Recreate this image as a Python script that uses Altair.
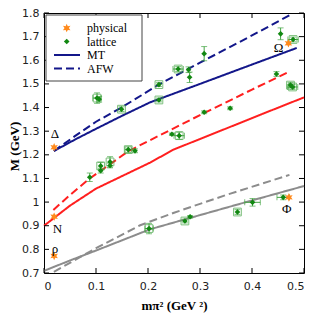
import altair as alt
import pandas as pd

# ---------------- data ----------------
# lattice points: m_pi^2, M, x-error, y-error, boxed?
lat_x = [0.088, 0.102, 0.106, 0.109, 0.109, 0.127, 0.127, 0.149, 0.162, 0.175,
         0.202, 0.221, 0.221, 0.246, 0.260, 0.258, 0.278, 0.280, 0.271, 0.281,
         0.308, 0.308, 0.358, 0.372, 0.401, 0.447, 0.455, 0.460, 0.474, 0.478, 0.479]
lat_y = [1.105, 1.440, 1.435, 1.153, 1.133, 1.170, 1.155, 1.393, 1.222, 1.217,
         0.888, 1.497, 1.432, 1.287, 1.281, 1.563, 1.560, 1.528, 0.920, 0.938,
         1.628, 1.380, 1.397, 0.958, 0.999, 1.542, 1.712, 1.020, 1.495, 1.487, 1.688]
lat_xerr = [0.0, 0.008, 0.0, 0.0, 0.0, 0.0, 0.0, 0.0, 0.006, 0.0,
            0.008, 0.0, 0.0, 0.0, 0.010, 0.010, 0.0, 0.0, 0.0, 0.0,
            0.0, 0.0, 0.0, 0.0, 0.015, 0.0, 0.0, 0.012, 0.0, 0.010, 0.010]
lat_yerr = [0.018, 0.022, 0.012, 0.015, 0.010, 0.022, 0.010, 0.010, 0.012, 0.008,
            0.022, 0.008, 0.008, 0.005, 0.015, 0.010, 0.012, 0.022, 0.008, 0.005,
            0.030, 0.006, 0.006, 0.010, 0.016, 0.010, 0.025, 0.010, 0.010, 0.010, 0.010]
lat_box = [False, True, False, True, False, True, False, True, True, False,
           True, True, True, False, True, True, False, False, True, False,
           False, False, False, True, False, False, False, False, True, True, True]

# physical points
phys_name = ["Δ", "N", "ρ", "Ω", "Φ"]
phys_x = [0.0195, 0.0195, 0.0195, 0.470, 0.471]
phys_y = [1.232, 0.938, 0.772, 1.672, 1.020]
lab_x = [0.021, 0.026, 0.021, 0.451, 0.467]
lab_y = [1.287, 0.887, 0.803, 1.654, 0.970]

# model curves
mt_dec_x = [0.019, 0.06, 0.1, 0.15, 0.204, 0.3, 0.4, 0.486]
mt_dec_y = [1.216, 1.265, 1.310, 1.365, 1.422, 1.500, 1.582, 1.652]
afw_dec_x = [0.019, 0.06, 0.1, 0.149, 0.223, 0.3, 0.4, 0.472]
afw_dec_y = [1.216, 1.280, 1.340, 1.400, 1.500, 1.590, 1.705, 1.790]
mt_oct_x = [0.0, 0.05, 0.1, 0.204, 0.249, 0.35, 0.42, 0.5]
mt_oct_y = [0.900, 0.985, 1.057, 1.167, 1.222, 1.311, 1.373, 1.443]
afw_oct_x = [0.018, 0.05, 0.088, 0.127, 0.162, 0.204, 0.3, 0.4, 0.473]
afw_oct_y = [0.967, 1.030, 1.100, 1.160, 1.215, 1.262, 1.368, 1.476, 1.553]
mt_vec_x = [0.0, 0.05, 0.1, 0.204, 0.3, 0.4, 0.5]
mt_vec_y = [0.709, 0.753, 0.795, 0.885, 0.945, 1.007, 1.068]
afw_vec_x = [0.019, 0.1, 0.185, 0.25, 0.35, 0.472]
afw_vec_y = [0.705, 0.805, 0.902, 0.955, 1.030, 1.115]

x_ticks = [0.0, 0.1, 0.2, 0.3, 0.4, 0.5]
y_ticks = [0.7, 0.8, 0.9, 1.0, 1.1, 1.2, 1.3, 1.4, 1.5, 1.6, 1.7, 1.8]
legend_labels = ["physical", "lattice", "MT", "AFW"]

# ---------------- frames ----------------
def curve(xs_, ys_, fam, model):
    return pd.DataFrame({"x": xs_, "y": ys_, "fam": fam, "model": model})

lines_df = pd.concat([
    curve(mt_dec_x, mt_dec_y, "dec", "MT"),
    curve(afw_dec_x, afw_dec_y, "dec", "AFW"),
    curve(mt_oct_x, mt_oct_y, "oct", "MT"),
    curve(afw_oct_x, afw_oct_y, "oct", "AFW"),
    curve(mt_vec_x, mt_vec_y, "vec", "MT"),
    curve(afw_vec_x, afw_vec_y, "vec", "AFW"),
], ignore_index=True)

lat = pd.DataFrame({"x": lat_x, "y": lat_y, "xe": lat_xerr, "ye": lat_yerr, "box": lat_box})
lat["ylo"] = lat["y"] - lat["ye"]
lat["yhi"] = lat["y"] + lat["ye"]
lat["xlo"] = lat["x"] - lat["xe"]
lat["xhi"] = lat["x"] + lat["xe"]
latx = lat[lat["xe"] > 0]
boxed = lat[lat["box"]]

phys = pd.DataFrame({"name": phys_name, "x": phys_x, "y": phys_y, "lx": lab_x, "ly": lab_y})
xt = pd.DataFrame({"t": x_ticks})
yt = pd.DataFrame({"t": y_ticks})

W, H = 260, 260
xs = alt.Scale(domain=[0, 0.5], nice=False, zero=False)
ys = alt.Scale(domain=[0.7, 1.8], nice=False, zero=False)
xaxis = alt.Axis(values=x_ticks, format="~g", ticks=False, domain=False, grid=False,
                 labelFont="DejaVu Sans", labelFontSize=11, labelColor="#222", labelPadding=7,
                 title="mπ² (GeV ²)", titleFont="Liberation Serif", titleFontSize=13,
                 titleFontWeight="bold", titleX=130, titleY=32, titleBaseline="middle",
                 titleColor="black")
yaxis = alt.Axis(values=y_ticks, format="~g", ticks=False, domain=False, grid=False,
                 labelFont="DejaVu Sans", labelFontSize=11, labelColor="#222", labelPadding=5,
                 title="M (GeV)", titleFont="Liberation Serif", titleFontSize=13,
                 titleFontWeight="bold", titleX=-30, titleY=133, titleAngle=270,
                 titleAlign="center", titleBaseline="middle", titleColor="black")

def X(f):
    return alt.X(f, type="quantitative", scale=xs, axis=xaxis)

def Y(f):
    return alt.Y(f, type="quantitative", scale=ys, axis=yaxis)

GREEN = "#118811"
GREEN_L = "#45a545"
BLUE = "#13178a"
STAR = ("M0,-1L0.25,-0.433L0.866,-0.5L0.5,0L0.866,0.5L0.25,0.433L0,1L-0.25,0.433"
        "L-0.866,0.5L-0.5,0L-0.866,-0.5L-0.25,-0.433Z")

lines = alt.Chart(lines_df).mark_line(strokeWidth=2).encode(
    x=X("x"), y=Y("y"),
    color=alt.Color("fam:N", scale=alt.Scale(domain=["dec", "oct", "vec"],
                                             range=[BLUE, "#ff1f1f", "#8c8c8c"]), legend=None),
    strokeDash=alt.StrokeDash("model:N", scale=alt.Scale(domain=["MT", "AFW"],
                                                         range=[[1, 0], [8, 4]]), legend=None),
)

ebar_v = alt.Chart(lat).mark_rule(color=GREEN_L, strokeWidth=1).encode(x=X("x"), y=Y("ylo"), y2="yhi")
cap_lo = alt.Chart(lat).mark_tick(orient="horizontal", size=6, thickness=1, color=GREEN_L).encode(x=X("x"), y=Y("ylo"))
cap_hi = alt.Chart(lat).mark_tick(orient="horizontal", size=6, thickness=1, color=GREEN_L).encode(x=X("x"), y=Y("yhi"))
ebar_h = alt.Chart(latx).mark_rule(color=GREEN_L, strokeWidth=1).encode(x=X("xlo"), x2="xhi", y=Y("y"))
capx_lo = alt.Chart(latx).mark_tick(orient="vertical", size=6, thickness=1, color=GREEN_L).encode(x=X("xlo"), y=Y("y"))
capx_hi = alt.Chart(latx).mark_tick(orient="vertical", size=6, thickness=1, color=GREEN_L).encode(x=X("xhi"), y=Y("y"))
boxes = alt.Chart(boxed).mark_point(shape="square", filled=False, size=60, color=GREEN_L, strokeWidth=1).encode(x=X("x"), y=Y("y"))
pts = alt.Chart(lat).mark_point(shape="diamond", filled=True, size=32, color=GREEN, opacity=1).encode(x=X("x"), y=Y("y"))

stars = alt.Chart(phys).mark_point(shape=STAR, filled=True, size=75, color="#ff8a1c", opacity=1).encode(x=X("x"), y=Y("y"))
labels = alt.Chart(phys).mark_text(font="Liberation Serif", fontSize=13, color="black",
                                   align="center", baseline="middle").encode(x=X("lx"), y=Y("ly"), text="name:N")

# inward ticks
tk = dict(color="black", strokeWidth=1)
t_bot = alt.Chart(xt).mark_rule(**tk).encode(x=X("t"), y=alt.value(H), y2=alt.value(H - 5))
t_top = alt.Chart(xt).mark_rule(**tk).encode(x=X("t"), y=alt.value(0), y2=alt.value(5))
t_left = alt.Chart(yt).mark_rule(**tk).encode(y=Y("t"), x=alt.value(0), x2=alt.value(5))
t_right = alt.Chart(yt).mark_rule(**tk).encode(y=Y("t"), x=alt.value(W), x2=alt.value(W - 5))

# legend (drawn by hand)
one = pd.DataFrame({"k": [0]})
leg_rows = [15, 28.5, 42, 55.5]
leg_box = alt.Chart(one).mark_rect(fill="white", stroke="#444", strokeWidth=1).encode(
    x=alt.value(2), x2=alt.value(98), y=alt.value(2), y2=alt.value(68))
leg_star = alt.Chart(one).mark_point(shape=STAR, filled=True, size=75, color="#ff8a1c", opacity=1).encode(
    x=alt.value(22.7), y=alt.value(leg_rows[0]))
leg_pt = alt.Chart(one).mark_point(shape="diamond", filled=True, size=32, color=GREEN, opacity=1).encode(
    x=alt.value(22.7), y=alt.value(leg_rows[1]))
leg_mt = alt.Chart(one).mark_rule(color=BLUE, strokeWidth=2).encode(
    x=alt.value(10), x2=alt.value(36), y=alt.value(leg_rows[2]))
leg_afw = alt.Chart(one).mark_rule(color=BLUE, strokeWidth=2, strokeDash=[8, 4]).encode(
    x=alt.value(10), x2=alt.value(36), y=alt.value(leg_rows[3]))
leg_texts = [
    alt.Chart(pd.DataFrame({"label": [lab]})).mark_text(
        font="Liberation Serif", fontSize=12, color="black", align="left", baseline="middle"
    ).encode(x=alt.value(43), y=alt.value(ry), text="label:N")
    for lab, ry in zip(legend_labels, leg_rows)
]

chart = alt.layer(
    lines, ebar_v, cap_lo, cap_hi, ebar_h, capx_lo, capx_hi, boxes, pts, stars, labels,
    t_bot, t_top, t_left, t_right,
    leg_box, leg_star, leg_pt, leg_mt, leg_afw, *leg_texts,
).properties(
    width=W, height=H,
    autosize=alt.AutoSizeParams(type="none"),
    padding={"left": 36, "top": 5, "right": 1, "bottom": 50},
).configure_view(stroke="black", strokeWidth=1)

chart.save("out.html", embed_options={"renderer": "svg", "actions": False})
